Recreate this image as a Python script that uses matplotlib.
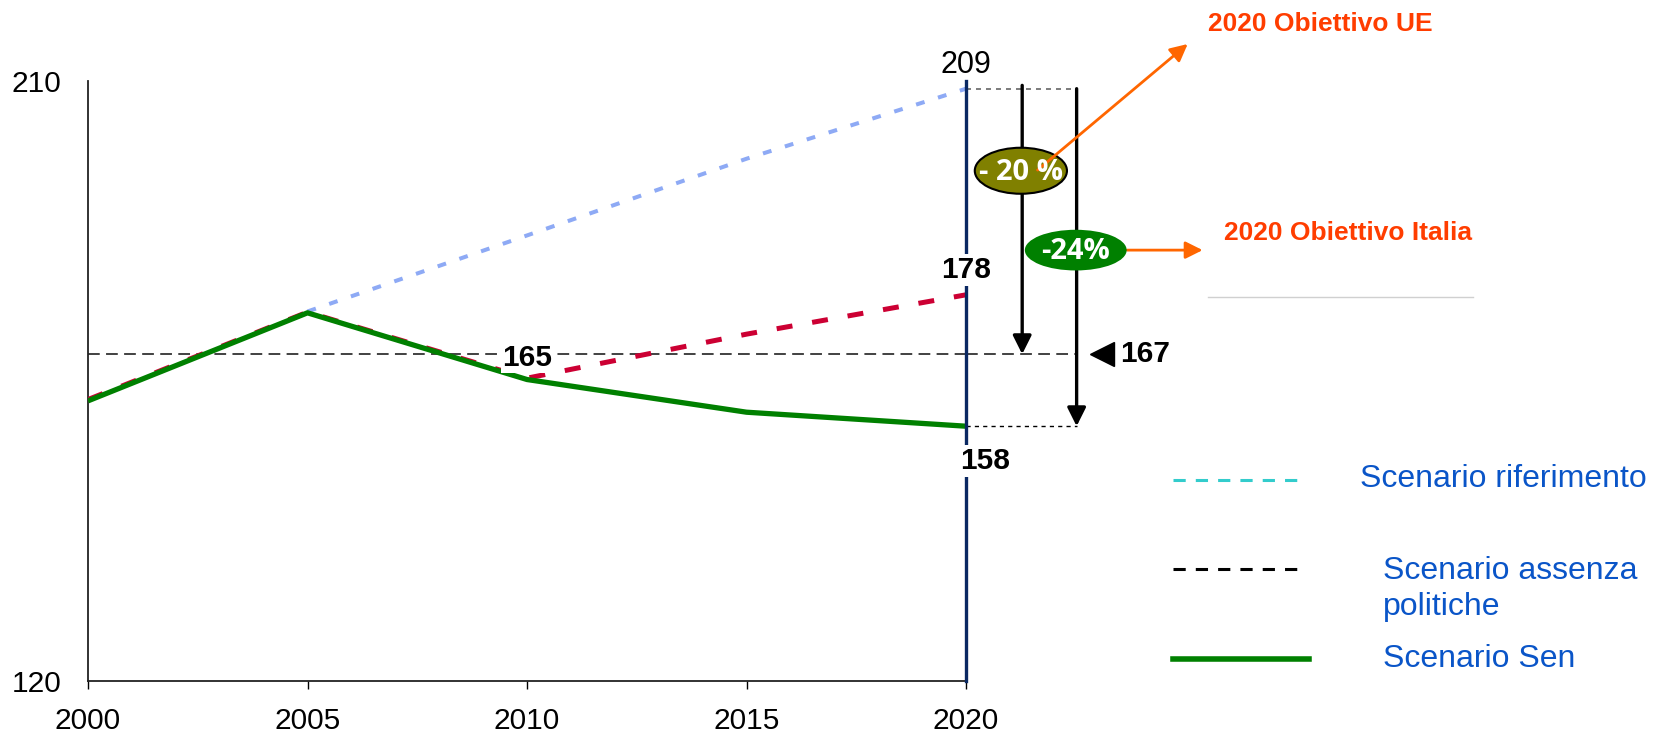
import matplotlib
matplotlib.use("Agg")
import matplotlib.pyplot as plt
import matplotlib.patches as patches
from matplotlib.lines import Line2D

plt.rcParams['font.family'] = ['Liberation Sans', 'DejaVu Sans']

W, H = 1662, 734

# data
years = [2000, 2005, 2010, 2015, 2020]
sen = [162.0, 175.2, 165.2, 160.3, 158.2]
rif_years = [2005, 2010, 2015, 2020]
rif = [175.4, 186.8, 198.3, 208.8]
red_vals = [162.2, 175.3, 165.4, 172.0, 177.9]
assenza = 169.0
x_ticks = [2000, 2005, 2010, 2015, 2020]
y_ticks = [120, 210]

target_eu = "- 20 %"
target_it = "-24%"
legend_labels = ["Scenario riferimento", "Scenario assenza\npolitiche", "Scenario Sen"]

C_GREEN = "#008000"
C_RED = "#CC0033"
C_BLUE = "#8EAAF5"
C_NAVY = "#0A2862"
C_ORANGE = "#FF6600"
C_ORTXT = "#FF3D00"
C_LEG = "#0A55C8"

fig = plt.figure(figsize=(W / 100, H / 100), dpi=100)
ax = fig.add_axes([88 / W, 1 - 681 / H, 878 / W, 600.3 / H])
ax.set_xlim(2000, 2020)
ax.set_ylim(120, 210)

for s in ["top", "right"]:
    ax.spines[s].set_visible(False)
for s in ["left", "bottom"]:
    ax.spines[s].set_linewidth(1.3)
    ax.spines[s].set_color("#222222")

ax.set_xticks(x_ticks)
ax.set_yticks(y_ticks)
ax.tick_params(axis="x", length=6, width=1, direction="out", pad=13, labelsize=21.5)
ax.tick_params(axis="y", length=0, pad=19, labelsize=21.5)

# lines
ax.axhline(assenza, xmin=0, xmax=1, color="#333333", lw=1.3, ls=(0, (6.5, 3.5)), zorder=2)
ax.plot([2020, 2022.52], [assenza, assenza], color="#333333", lw=1.3,
        ls=(0, (6.5, 3.5)), clip_on=False, zorder=2)
ax.plot(rif_years, rif, color=C_BLUE, lw=2.9, ls=(0, (2.2, 3.5)), zorder=3)
ax.plot(years, red_vals, color=C_RED, lw=3.6, ls=(0, (3.2, 4.0)), zorder=3)
ax.plot(years, sen, color=C_GREEN, lw=3.8, zorder=4, solid_capstyle="butt")

ax.plot([2020, 2020], [120, 210], color=C_NAVY, lw=2.4, zorder=5, clip_on=False)

# guide lines right of 2020
ax.plot([2020, 2022.52], [rif[-1], rif[-1]], color="#666666", lw=1.2,
        ls=(0, (3, 3)), clip_on=False)
ax.plot([2020, 2022.52], [sen[-1], sen[-1]], color="black", lw=1.0,
        ls=(0, (3, 3)), clip_on=False)

arrow_kw = dict(arrowstyle="-|>", mutation_scale=28, lw=2.4, color="black",
                shrinkA=0, shrinkB=0)
ax.annotate("", xy=(2021.28, assenza), xytext=(2021.28, 209.3),
            arrowprops=arrow_kw, annotation_clip=False)
ax.annotate("", xy=(2022.52, sen[-1]), xytext=(2022.52, rif[-1]),
            arrowprops=arrow_kw, annotation_clip=False)

# orange pointers
or_kw = dict(arrowstyle="-|>", mutation_scale=26, lw=2.0, color=C_ORANGE,
             shrinkA=0, shrinkB=0)
ax.annotate("", xy=(2025.05, 215.5), xytext=(2021.63, 196.6),
            arrowprops=or_kw, annotation_clip=False, zorder=8)
ax.annotate("", xy=(2025.39, 184.6), xytext=(2023.67, 184.6),
            arrowprops=or_kw, annotation_clip=False, zorder=6)

# ellipses
e1 = patches.Ellipse((2021.25, 196.5), 2.1, 6.9, facecolor="#808000",
                     edgecolor="black", lw=1.5, clip_on=False, zorder=7)
e2 = patches.Ellipse((2022.5, 184.6), 2.32, 6.1, facecolor=C_GREEN,
                     edgecolor="none", clip_on=False, zorder=7)
ax.add_patch(e1)
ax.add_patch(e2)
ax.text(2021.25, 196.3, target_eu, color="white", fontsize=21, fontweight="bold",
        family=["Open Sans", "DejaVu Sans"], ha="center", va="center", zorder=9)
ax.text(2022.5, 184.4, target_it, color="white", fontsize=21, fontweight="bold",
        family=["Open Sans", "DejaVu Sans"], ha="center", va="center", zorder=9)

# value labels
box = dict(facecolor="white", edgecolor="none", pad=1.5)
ax.text(2020, 212.3, "209", fontsize=22, ha="center", va="center", clip_on=False)
ax.text(2020, 181.6, "178", fontsize=21.5, fontweight="bold", ha="center",
        va="center", bbox=box, zorder=6)
ax.text(2010, 168.4, "165", fontsize=21.5, fontweight="bold", ha="center",
        va="center", bbox=dict(facecolor="white", edgecolor="none", pad=0.5), zorder=6)
ax.text(2020.43, 153.0, "158", fontsize=21.5, fontweight="bold", ha="center",
        va="center", bbox=box, zorder=6, clip_on=False)
ax.plot([2023.1], [assenza], marker="<", markersize=17, color="black",
        clip_on=False)
ax.text(2023.5, assenza, "167", fontsize=21.5, fontweight="bold", ha="left",
        va="center", clip_on=False)

# orange titles
fig.text(1208 / W, 1 - 24 / H, "2020 Obiettivo UE", color=C_ORTXT, fontsize=19,
         fontweight="bold", ha="left", va="center")
fig.text(1224 / W, 1 - 233 / H, "2020 Obiettivo Italia", color=C_ORTXT, fontsize=19,
         fontweight="bold", ha="left", va="center")
fig.add_artist(Line2D([1208 / W, 1473 / W], [1 - 297 / H, 1 - 297 / H],
                      color="#D0D0D0", lw=1))

# legend drawn by hand
fig.add_artist(Line2D([1173 / W, 1302 / W], [1 - 480 / H, 1 - 480 / H],
                      color="#33CCCC", lw=2.2, ls=(0, (4, 3.3))))
fig.add_artist(Line2D([1173 / W, 1302 / W], [1 - 569 / H, 1 - 569 / H],
                      color="black", lw=2.2, ls=(0, (4, 3.3))))
fig.add_artist(Line2D([1173 / W, 1309 / W], [1 - 659 / H, 1 - 659 / H],
                      color=C_GREEN, lw=4))
fig.text(1360 / W, 1 - 479 / H, legend_labels[0], color=C_LEG, fontsize=23,
         ha="left", va="center")
fig.text(1383 / W, 1 - 589 / H, legend_labels[1], color=C_LEG, fontsize=23,
         ha="left", va="center", linespacing=1.25)
fig.text(1383 / W, 1 - 659 / H, legend_labels[2], color=C_LEG, fontsize=23,
         ha="left", va="center")

fig.savefig("out.png", dpi=100)
